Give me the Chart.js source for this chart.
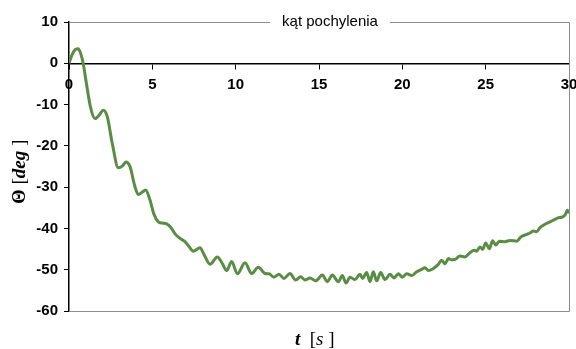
<!DOCTYPE html>
<html>
<head>
<meta charset="utf-8">
<script src="https://cdn.jsdelivr.net/npm/chart.js@4"></script>
<style>
  html, body { margin: 0; padding: 0; background: #fff; }
  #box { width: 576px; height: 349px; }
</style>
</head>
<body>
<div id="box"><canvas id="wykres"></canvas></div>
<script>
// czas [s] i kąt pochylenia [deg]
const czas = [0, 0.2, 0.4, 0.56, 0.7, 0.85, 1.05, 1.3, 1.56, 1.8, 2.06, 2.3, 2.6, 2.96, 3.2, 3.42, 3.66, 3.95, 4.16, 4.4,
  4.6, 4.85, 5.1, 5.36, 5.6, 5.86, 6.1, 6.4, 6.66, 6.96, 7.2, 7.46, 7.86, 8.1, 8.46, 8.9, 9.2, 9.46, 9.76, 10.1,
  10.56, 10.96, 11.36, 11.76, 12.0, 12.3, 12.6, 12.9, 13.26, 13.6, 13.9, 14.16, 14.46, 14.8, 15.2, 15.5, 15.8, 16.16, 16.4, 16.62,
  16.86, 17.16, 17.46, 17.62, 17.86, 18.06, 18.26, 18.46, 18.7, 18.96, 19.26, 19.5, 19.76, 20.0, 20.26, 20.56, 20.86, 21.16, 21.36, 21.56,
  21.86, 22.16, 22.36, 22.56, 22.76, 22.96, 23.16, 23.46, 23.76, 24.06, 24.3, 24.46, 24.66, 24.82, 25.0, 25.22, 25.42, 25.6, 25.82, 26.16,
  26.46, 26.86, 27.1, 27.42, 27.66, 27.86, 28.06, 28.26, 28.56, 28.76, 28.96, 29.16, 29.36, 29.56, 29.76, 29.9, 30.0];
const kat = [0, 2.2, 3.4, 3.55, 2.4, 0, -5, -10.8, -13.4, -12.6, -11.4, -13, -19.5, -25.3, -24.9, -23.9, -25, -29.8, -31.8, -31.2,
  -30.7, -33, -36.6, -38.4, -38.7, -38.9, -39.7, -41.5, -42.4, -43.2, -44.4, -45.5, -44.7, -46.3, -48.7, -46.9, -48.5, -50.2, -48.0, -51.0,
  -48.3, -50.9, -49.4, -50.9, -51.0, -51.8, -51.1, -52.1, -50.9, -52.5, -51.7, -52.5, -52.0, -52.7, -51.3, -52.9, -51.3, -52.9, -51.4, -53.2,
  -51.8, -52.4, -51.1, -52.1, -50.7, -52.9, -50.5, -52.7, -50.7, -52.4, -51.1, -52.0, -51.0, -51.8, -51.0, -51.4, -50.5, -49.9, -49.5, -50.2,
  -49.7, -48.7, -47.7, -48.6, -47.3, -47.6, -47.5, -46.7, -46.9, -45.9, -45.3, -45.5, -44.5, -45.1, -43.5, -44.9, -43.0, -44.0, -43.1, -43.2,
  -42.9, -43.1, -42.1, -41.5, -41.1, -40.6, -40.8, -39.8, -39.0, -38.6, -38.2, -37.8, -37.4, -37.3, -36.8, -35.6, -36.3];

const tytul = 'kąt pochylenia';
const xTicks = [0, 5, 10, 15, 20, 25, 30];
const yTicks = [-60, -50, -40, -30, -20, -10, 0, 10];

const punkty = czas.map((t, i) => ({ x: t, y: kat[i] }));

// ramka wykresu, napis w górnej krawędzi i tytuły osi
const ramka = {
  id: 'ramka',
  beforeDatasetsDraw(chart) {
    const { ctx, chartArea: a } = chart;
    ctx.save();
    ctx.strokeStyle = '#8c8c8c';
    ctx.lineWidth = 1;
    ctx.beginPath();
    ctx.moveTo(a.left, a.top + 0.5);
    ctx.lineTo(a.right + 0.5, a.top + 0.5);
    ctx.lineTo(a.right + 0.5, a.bottom + 0.5);
    ctx.lineTo(a.left, a.bottom + 0.5);
    ctx.stroke();

    ctx.font = '15px "Liberation Sans", Arial, sans-serif';
    ctx.textBaseline = 'middle';
    ctx.textAlign = 'center';
    const cx = 330;
    const w = ctx.measureText(tytul).width;
    ctx.fillStyle = '#fff';
    ctx.fillRect(cx - w / 2 - 12, a.top - 3, w + 24, 7);
    ctx.fillStyle = '#000';
    ctx.fillText(tytul, cx, a.top);
    ctx.restore();
  },
  afterDraw(chart) {
    const { ctx } = chart;
    ctx.save();
    ctx.fillStyle = '#000';
    ctx.textBaseline = 'alphabetic';
    ctx.textAlign = 'left';
    const czesci = (parts, x, y) => {
      parts.forEach(([txt, font]) => {
        ctx.font = font;
        ctx.fillText(txt, x, y);
        x += ctx.measureText(txt).width;
      });
    };
    const b = 'bold 19px "Liberation Serif", "Times New Roman", serif';
    const bi = 'italic bold 19px "Liberation Serif", "Times New Roman", serif';
    const i = 'italic 19px "Liberation Serif", "Times New Roman", serif';
    const n = '19px "Liberation Serif", "Times New Roman", serif';
    czesci([['t', bi], ['  [', n], ['s', i], [' ]', n]], 295, 345);

    ctx.translate(25, 204);
    ctx.rotate(-Math.PI / 2);
    czesci([['Θ', b], [' [', n], ['deg', bi], [' ]', n]], 0, 0);
    ctx.restore();
  }
};

new Chart(document.getElementById('wykres'), {
  type: 'line',
  data: {
    datasets: [{
      data: punkty,
      borderColor: '#5a8c45',
      borderWidth: 3,
      pointRadius: 0,
      cubicInterpolationMode: 'monotone',
      fill: false
    }]
  },
  options: {
    responsive: true,
    maintainAspectRatio: false,
    animation: false,
    layout: { padding: { top: 22, right: 7, bottom: 38, left: 0 } },
    plugins: { legend: { display: false }, tooltip: { enabled: false } },
    scales: {
      x: {
        type: 'linear',
        position: { y: 0 },
        min: 0, max: 30,
        afterBuildTicks: s => { s.ticks = xTicks.map(v => ({ value: v })); },
        afterFit: s => { s.paddingLeft = 0; s.paddingRight = 0; },
        grid: { drawOnChartArea: false, tickLength: 5, color: '#000', tickWidth: 1 },
        border: { color: '#000', width: 1.5 },
        ticks: {
          autoSkip: false, maxRotation: 0, padding: 8, color: '#000',
          font: { family: '"Liberation Sans", Arial, sans-serif', size: 15, weight: 'bold' }
        }
      },
      y: {
        type: 'linear',
        min: -60, max: 10,
        afterBuildTicks: s => { s.ticks = yTicks.map(v => ({ value: v })); },
        afterFit: s => { s.width = 69; s.paddingTop = 0; s.paddingBottom = 0; },
        grid: { drawOnChartArea: false, tickLength: 5, color: '#000', tickWidth: 1 },
        border: { color: '#000', width: 1.5 },
        ticks: {
          padding: 6, color: '#000',
          font: { family: '"Liberation Sans", Arial, sans-serif', size: 15, weight: 'bold' }
        }
      }
    }
  },
  plugins: [ramka]
});
</script>
</body>
</html>
